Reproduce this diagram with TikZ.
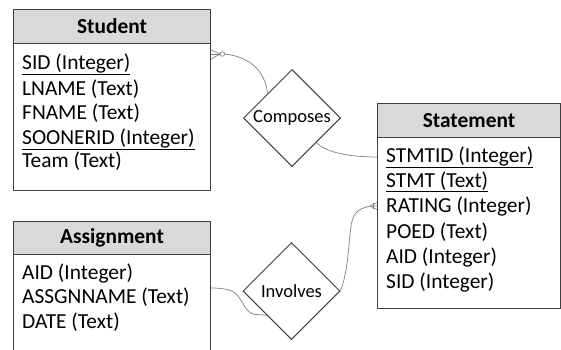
\documentclass[tikz,border=0pt]{standalone}
\usepackage{fontspec}
\setmainfont{Carlito}
\usetikzlibrary{shapes.geometric,calc}
\definecolor{edgegray}{HTML}{404040}
\definecolor{headgray}{HTML}{D9D9D9}
\definecolor{linkgray}{HTML}{7F7F7F}
\tikzset{
  entity/.style={draw=edgegray, line width=1pt, anchor=north west, inner sep=0pt},
  header/.style={entity, fill=headgray, font=\fontsize{21.4}{25}\selectfont\bfseries},
  attr/.style={anchor=base west, inner sep=0pt, font=\fontsize{21.4}{25}\selectfont},
  rel/.style={diamond, draw=edgegray, line width=1pt, inner sep=0pt, aspect=1,
    minimum width=97pt, minimum height=97pt, font=\fontsize{18.5}{22}\selectfont},
  link/.style={draw=linkgray, line width=0.7pt},
}
\begin{document}
\begin{tikzpicture}[x=1pt, y=-1pt]
  \useasboundingbox (0,0) rectangle (561,349);
  \clip (0,0) rectangle (561,349);

  % Student entity
  \node[entity, minimum width=197pt, minimum height=181pt] (student) at (13,9) {};
  \node[header, minimum width=197pt, minimum height=34pt] (studenthead) at (13,9) {Student};
  \node[attr] (s1) at (22,69) {\underline{SID (Integer)}};
  \node[attr] (s2) at (22,95) {LNAME (Text)};
  \node[attr] (s3) at (22,119) {FNAME (Text)};
  \node[attr] (s4) at (22,144) {\underline{SOONERID (Integer)}};
  \node[attr] (s5) at (22,167) {Team (Text)};

  % Statement entity
  \node[entity, minimum width=183pt, minimum height=205pt] (statement) at (377,103) {};
  \node[header, minimum width=183pt, minimum height=34pt] (statementhead) at (377,103) {Statement};
  \node[attr] (t1) at (386,162) {\underline{STMTID (Integer)}};
  \node[attr] (t2) at (386,187) {\underline{STMT (Text)}};
  \node[attr] (t3) at (386,212) {RATING (Integer)};
  \node[attr] (t4) at (386,238.5) {POED (Text)};
  \node[attr] (t5) at (386,263.5) {AID (Integer)};
  \node[attr] (t6) at (386,288.5) {SID (Integer)};

  % Assignment entity (runs past the lower edge)
  \node[entity, minimum width=197pt, minimum height=150pt] (assignment) at (13,221) {};
  \node[header, minimum width=197pt, minimum height=33pt] (assignmenthead) at (13,221) {Assignment};
  \node[attr] (a1) at (22,279) {AID (Integer)};
  \node[attr] (a2) at (22,303.5) {ASSGNNAME (Text)};
  \node[attr] (a3) at (22,328) {DATE (Text)};

  % Relationships
  \node[rel] (composes) at (292,118) {Composes};
  \node[rel] (involves) at (291.5,291) {Involves};

  % Student -- Composes (zero or many)
  \coordinate (sfoot) at ($(student.north east)+(9,45)$);
  \draw[link] ($(student.north east)+(0,41)$) -- (sfoot);
  \draw[link] ($(student.north east)+(0,45)$) -- (sfoot);
  \draw[link] ($(student.north east)+(0,50)$) -- (sfoot);
  \draw[link] ($(sfoot)+(2.3,0)$) circle[radius=2.3pt];
  \draw[link] ($(sfoot)+(4.6,0)$) .. controls +(28,3) and +(-2,-20) .. (composes.135);

  % Composes -- Statement
  \draw[link] (composes.-45) .. controls +(8,9) and +(-30,0) .. (statement.west |- t1);

  % Assignment -- Involves
  \draw[link] ($(assignment.north east)+(0,67)$) .. controls +(30,0) and +(-10,-12) .. ($(involves.225)+(-20,-6)$)
    .. controls +(6,7) and +(-12,-2) .. (involves.225);

  % Involves -- Statement (many)
  \coordinate (tfoot) at ($(statement.west |- t3)+(-7,0)$);
  \coordinate (bend) at ($(involves.east)+(10,-61)$);
  \draw[link] (involves.east) .. controls +(7,-18) and +(-2,18) .. (bend)
    .. controls +(2,-18) and +(-12,3) .. (tfoot) -- (statement.west |- t3);
  \draw[link] ($(statement.west |- t3)+(0,-3.5)$) -- (tfoot) -- ($(statement.west |- t3)+(0,3.5)$);
  \draw[link] ($(tfoot)+(3,-3)$) -- ($(tfoot)+(3,3)$);
\end{tikzpicture}
\end{document}
